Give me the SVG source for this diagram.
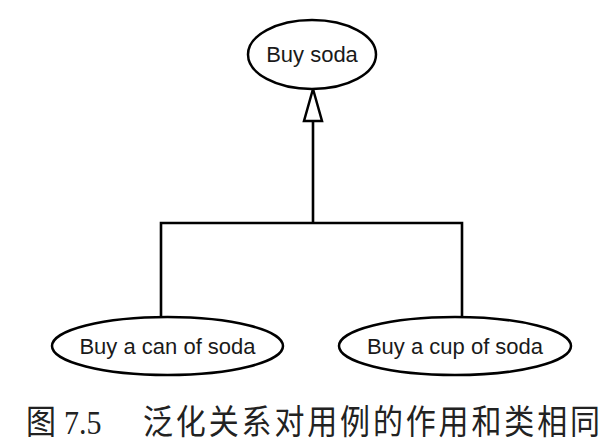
<svg xmlns="http://www.w3.org/2000/svg" width="613" height="446" viewBox="0 0 613 446">
<style>
.node ellipse{fill:#fff;stroke:#000;stroke-width:2.5}
.node text{font-family:"Liberation Sans",Arial,sans-serif;font-size:22px;fill:#1a1a1a;text-anchor:middle}
.conn{fill:none;stroke:#000;stroke-width:2.6}
.cap{font-family:"Noto Sans CJK SC",sans-serif;font-size:30px;fill:#222}
.capnum{font-family:"Liberation Serif",serif;font-size:30px;fill:#222}
</style>
<rect width="613" height="446" fill="#fff"/>
<g id="connectors">
<path class="conn" d="M313 121 V223 M161 317 V223 H462 V317"/>
<polygon points="313,89 304,121 322,121" fill="#fff" stroke="#000" stroke-width="2.5" stroke-linejoin="miter"/>
</g>
<g id="buy-soda" class="node">
<ellipse cx="312" cy="54.5" rx="64" ry="34.5"/>
<text x="312" y="62">Buy soda</text>
</g>
<g id="buy-can" class="node">
<ellipse cx="167.5" cy="346" rx="115.5" ry="29"/>
<text x="167.5" y="354">Buy a can of soda</text>
</g>
<g id="buy-cup" class="node">
<ellipse cx="455" cy="346" rx="116" ry="29"/>
<text x="455" y="354">Buy a cup of soda</text>
</g>
<g id="caption" transform="translate(0,434) scale(1,1.12)">
<text class="cap" x="26" y="0">图</text>
<text class="capnum" x="64" y="0">7.5</text>
<text class="cap" x="143" y="0" textLength="457" lengthAdjust="spacing">泛化关系对用例的作用和类相同</text>
</g>
</svg>
